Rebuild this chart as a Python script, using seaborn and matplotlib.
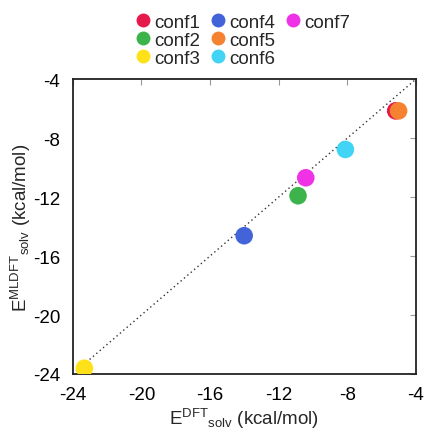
import matplotlib
matplotlib.use("Agg")
import matplotlib.pyplot as plt
from matplotlib.lines import Line2D
import seaborn as sns
import pandas as pd

# Solvation energies (kcal/mol) for each conformer
confs = ["conf1", "conf2", "conf3", "conf4", "conf5", "conf6", "conf7"]
e_dft = [-5.18, -10.87, -23.32, -14.01, -5.01, -8.11, -10.42]
e_mldft = [-6.15, -11.91, -23.61, -14.62, -6.15, -8.77, -10.69]
colors = ["#e6194b", "#3cb44b", "#ffe119", "#4363d8", "#f58231", "#42d4f4", "#f032e6"]
ticks = [-24, -20, -16, -12, -8, -4]

sns.set_theme(style="white")
plt.rcParams["font.family"] = ["Liberation Sans", "DejaVu Sans"]
plt.rcParams["mathtext.fontset"] = "custom"
plt.rcParams["mathtext.rm"] = "Liberation Sans"

df = pd.DataFrame({"conf": confs, "dft": e_dft, "mldft": e_mldft})

fig = plt.figure(figsize=(4.24, 4.31), dpi=100)
ax = fig.add_axes([0.1715, 0.130, 0.8095, 0.684])

# y = x reference line
ax.plot([ticks[0], ticks[-1]], [ticks[0], ticks[-1]], linestyle=(0, (1, 2.2)),
        color="#333333", linewidth=1.0, zorder=1)

sns.scatterplot(data=df, x="dft", y="mldft", hue="conf", palette=colors,
                s=160, edgecolor="none", linewidth=0, legend=False, ax=ax, zorder=3)

ax.set_xlim(ticks[0], ticks[-1])
ax.set_ylim(ticks[0], ticks[-1])
ax.set_xticks(ticks)
ax.set_yticks(ticks)
ax.set_xticklabels([str(t) for t in ticks])
ax.set_yticklabels([str(t) for t in ticks])
ax.tick_params(direction="in", length=4, width=0.8, color="#999999",
               labelsize=13.5, top=True, right=True, pad=9, labelcolor="black")
for sp in ax.spines.values():
    sp.set_color("#222222")
    sp.set_linewidth(1.3)

ax.set_xlabel(r"$\mathregular{E^{DFT}{}_{solv}}$ (kcal/mol)", fontsize=13.5, labelpad=2)
ax.set_ylabel(r"$\mathregular{E^{MLDFT}{}_{solv}}$ (kcal/mol)", fontsize=13.5, labelpad=0)

handles = [Line2D([], [], marker="o", linestyle="none", markersize=10,
                  markerfacecolor=c, markeredgecolor="none") for c in colors]
labels = list(confs)
blank = Line2D([], [], linestyle="none")
handles += [blank, blank]
labels += ["", ""]
fig.legend(handles, labels, ncol=3, loc="upper left", bbox_to_anchor=(0.298, 0.984),
           frameon=False, fontsize=13.5, handletextpad=0.1, columnspacing=0.45,
           labelspacing=0.05, handlelength=1.0, borderaxespad=0)

fig.savefig("out.png", dpi=100)
